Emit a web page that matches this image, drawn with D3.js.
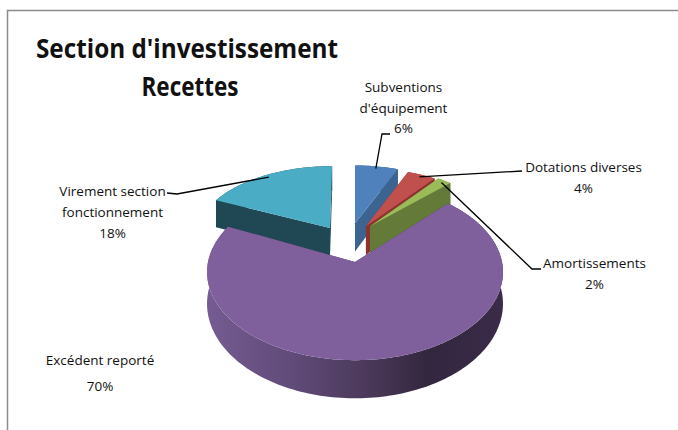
<!DOCTYPE html>
<html>
<head>
<meta charset="utf-8">
<script src="https://cdn.jsdelivr.net/npm/d3@7"></script>
<style>
  html, body { margin: 0; background: #fff; }
  svg { display: block; }
  text { font-family: "Open Sans", sans-serif; fill: #111; }
  .lbl { font-size: 13.5px; text-anchor: middle; }
  .title { font-size: 27px; font-weight: 700; }
  .leader { fill: none; stroke: #000; stroke-width: 1.3; }
</style>
</head>
<body>
<svg id="chart" width="678" height="430"></svg>
<script>
  const categories = ['Subventions d\'équipement', 'Dotations diverses', 'Amortissements', 'Excédent reporté', 'Virement section fonctionnement'];
  const shares = [6, 4, 2, 70, 18];
  const topColors = ['#4f81bd', '#c0504d', '#9bbb59', '#7f609c', '#4bacc6'];
  const wallColors = ['#3b6490', '#8e3230', '#647a38', '#4a3858', '#1f4854'];

  // exploded slices: pulled away in the ground plane and drawn a bit smaller
  const pullU = [0.0, 0.078, 0.107, 0, -0.178];
  const pullV = [0.47, 0.43, 0.43, 0, 0.41];
  const radiusU = [0.9, 0.9, 0.9, 1, 0.94];
  const radiusV = [0.8, 0.8, 0.8, 1, 0.85];

  // label lines and the elbow of each leader
  const labelLines = [
    ['Subventions', 'd\'équipement', '6%'],
    ['Dotations diverses', '4%'],
    ['Amortissements', '2%'],
    ['Excédent reporté', '70%'],
    ['Virement section', 'fonctionnement', '18%']
  ];
  const labelX = [403.5, 583.5, 594.5, 100, 112.5];
  const labelY = [92, 172, 268, 365, 196];
  const lineGap = [20.5, 20.5, 21, 26, 21];
  const leaderPts = [[[382, 134], [390, 134]], [[522, 171]], [[532, 269], [541, 269]], null, [[177, 194], [167, 193]]];

  const svg = d3.select('#chart');

  // chart frame, only top and left show
  svg.append('path')
    .attr('d', d3.line()([[7.5, 430], [7.5, 10.5], [678, 10.5]]))
    .attr('fill', 'none').attr('stroke', '#8c8c8c').attr('stroke-width', 1.5);

  svg.append('text').attr('class', 'title').attr('x', 36).attr('y', 58)
    .attr('textLength', 302).attr('lengthAdjust', 'spacingAndGlyphs')
    .text('Section d\'investissement');
  svg.append('text').attr('class', 'title').attr('x', 141.5).attr('y', 96)
    .attr('textLength', 97).attr('lengthAdjust', 'spacingAndGlyphs')
    .text('Recettes');

  // homography of the ground plane, u right, v away from the viewer
  const cx = 355, cy = 262, rx = 147, ry = 87, k = 0.114, depth = 31;
  function project(u, v, z) {
    const d = 1 + k * v;
    return [cx + rx * u / d, cy - ry * v / d + z * depth / Math.pow(d, 1.7)];
  }

  const pie = d3.pie().sort(null).value((d) => d);
  const arcs = pie(shares);

  function rimPoints(i, z, a0, a1) {
    const n = Math.max(2, Math.ceil((a1 - a0) * 40));
    return d3.range(n + 1).map((j) => {
      const a = a0 + (a1 - a0) * j / n;
      return project(pullU[i] + radiusU[i] * Math.sin(a), pullV[i] + radiusV[i] * Math.cos(a), z);
    });
  }
  const apex = (i, z) => project(pullU[i], pullV[i], z);
  const line = d3.line();
  const closed = (pts) => line(pts) + 'Z';

  // depth gradient on the big outer wall
  const defs = svg.append('defs');
  const grad = defs.append('linearGradient').attr('id', 'wallShade')
    .attr('gradientUnits', 'userSpaceOnUse')
    .attr('x1', cx - rx).attr('x2', cx + rx).attr('y1', 0).attr('y2', 0);
  [[0, '#755b91'], [0.3, '#5f4a78'], [0.55, '#4a3858'], [0.75, '#33263f'], [1, '#3a2c49']].forEach((s) => {
    grad.append('stop').attr('offset', s[0]).attr('stop-color', s[1]);
  });

  function drawSlice(i) {
    const a = arcs[i];
    const g = svg.append('g');
    // cut faces
    [a.startAngle, a.endAngle].forEach((ang) => {
      const rim = rimPoints(i, 0, ang, ang)[0];
      const rimLow = rimPoints(i, 1, ang, ang)[0];
      g.append('path').attr('d', closed([apex(i, 0), rim, rimLow, apex(i, 1)])).attr('fill', wallColors[i]);
    });
    // outer wall
    const top = rimPoints(i, 0, a.startAngle, a.endAngle);
    const low = rimPoints(i, 1, a.startAngle, a.endAngle).reverse();
    g.append('path').attr('d', closed(top.concat(low)))
      .attr('fill', i === 3 ? 'url(#wallShade)' : wallColors[i]);
    // top face
    g.append('path').attr('d', closed([apex(i, 0)].concat(top))).attr('fill', topColors[i]);
  }

  [4, 0, 1, 2, 3].forEach(drawSlice);

  // leaders start on the rim at mid angle
  arcs.forEach((a, i) => {
    if (!leaderPts[i]) return;
    const mid = (a.startAngle + a.endAngle) / 2;
    const start = rimPoints(i, 0, mid, mid)[0];
    const inner = [start[0] + (apex(i, 0)[0] - start[0]) * 0.04, start[1] + (apex(i, 0)[1] - start[1]) * 0.04];
    svg.append('path').attr('class', 'leader').attr('d', line([inner].concat(leaderPts[i])));
  });

  // labels
  labelLines.forEach((lines, i) => {
    const t = svg.append('text').attr('class', 'lbl');
    lines.forEach((s, j) => {
      t.append('tspan').attr('x', labelX[i]).attr('y', labelY[i] + j * lineGap[i]).text(s);
    });
  });
</script>
</body>
</html>
